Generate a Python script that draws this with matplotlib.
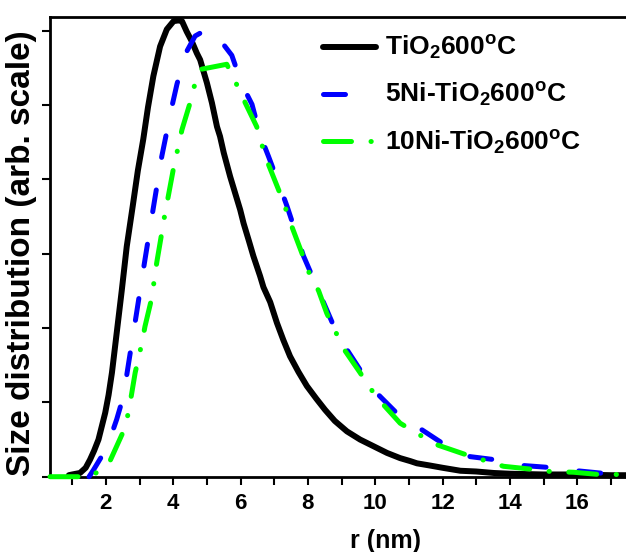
import matplotlib
matplotlib.use("Agg")
import matplotlib.pyplot as plt
from matplotlib.ticker import MultipleLocator, NullFormatter

plt.rcParams["font.family"] = ["Liberation Sans", "DejaVu Sans"]
plt.rcParams["font.weight"] = "bold"
plt.rcParams["mathtext.fontset"] = "custom"
plt.rcParams["mathtext.rm"] = "Liberation Sans:bold"
plt.rcParams["mathtext.bf"] = "Liberation Sans:bold"
plt.rcParams["mathtext.it"] = "Liberation Sans:bold"
plt.rcParams["mathtext.default"] = "bf"

# Pore radius (nm) and size distribution (arb. units)
r_tio2 = [0.90, 1.00, 1.23, 1.40, 1.53, 1.65, 1.78, 1.88, 1.98, 2.08, 2.18, 2.32,
          2.47, 2.62, 2.80, 2.95, 3.11, 3.25, 3.41, 3.61, 3.81, 4.01, 4.15, 4.26,
          4.40, 4.55, 4.70, 4.80, 5.00, 5.15, 5.30, 5.39, 5.50, 5.69, 5.85, 5.99,
          6.09, 6.25, 6.38, 6.58, 6.68, 6.88, 7.08, 7.27, 7.47, 7.72, 7.97, 8.25,
          8.51, 8.80, 9.16, 9.55, 9.95, 10.35, 10.74, 11.04, 11.24, 11.63, 12.00,
          12.53, 13.00, 13.52, 14.00, 15.00, 16.00, 17.00, 18.00, 19.00, 20.30]
d_tio2 = [0.02, 0.03, 0.05, 0.12, 0.23, 0.35, 0.50, 0.68, 0.86, 1.10, 1.40, 1.93,
          2.50, 3.10, 3.65, 4.12, 4.54, 4.97, 5.39, 5.79, 6.02, 6.13, 6.14, 6.13,
          5.99, 5.86, 5.70, 5.61, 5.30, 5.03, 4.71, 4.58, 4.36, 4.04, 3.80, 3.59,
          3.41, 3.17, 2.97, 2.70, 2.55, 2.35, 2.07, 1.84, 1.62, 1.41, 1.22, 1.05,
          0.90, 0.75, 0.61, 0.50, 0.41, 0.32, 0.25, 0.21, 0.18, 0.15, 0.12,
          0.08, 0.07, 0.05, 0.04, 0.03, 0.03, 0.02, 0.02, 0.02, 0.01]

r_5ni = [1.50, 1.63, 2.03, 2.32, 2.52, 2.70, 2.90, 3.10, 3.26, 3.41, 3.66, 3.96,
         4.11, 4.35, 4.65, 5.00, 5.25, 5.74, 6.04, 6.34, 6.58, 6.83, 7.13, 7.38,
         7.87, 8.27, 8.86, 9.16, 9.65, 10.10, 10.74, 11.29, 12.13, 12.82, 13.71,
         14.41, 15.30, 15.99, 16.89, 17.40, 18.50, 20.30]
d_5ni = [0.00, 0.09, 0.39, 0.77, 1.08, 1.60, 2.17, 2.75, 3.20, 3.62, 4.31, 4.98,
         5.28, 5.68, 5.93, 6.02, 5.96, 5.67, 5.28, 5.01, 4.60, 4.31, 3.95, 3.64,
         2.97, 2.55, 1.93, 1.71, 1.37, 1.10, 0.81, 0.66, 0.41, 0.27, 0.22,
         0.15, 0.12, 0.08, 0.04, 0.03, 0.02, 0.01]

r_10ni = [0.34, 1.60, 1.68, 2.12, 2.52, 2.67, 2.87, 3.07, 3.16, 3.36, 3.51, 3.66,
          3.74, 4.00, 4.26, 4.50, 4.60, 4.80, 5.59, 5.84, 6.14, 6.48, 6.63, 6.83,
          7.13, 7.33, 7.52, 7.82, 8.02, 8.32, 8.56, 8.81, 9.11, 9.55, 9.85, 10.20,
          10.74, 11.29, 11.83, 12.67, 13.17, 13.81, 14.66, 15.20, 15.89, 16.64,
          17.23, 18.50, 20.30]
d_10ni = [0.00, 0.00, 0.04, 0.21, 0.61, 0.86, 1.40, 1.80, 2.02, 2.40, 2.88, 3.28,
          3.50, 4.13, 4.67, 5.03, 5.22, 5.48, 5.55, 5.32, 5.03, 4.71, 4.47, 4.20,
          3.86, 3.62, 3.37, 3.01, 2.76, 2.50, 2.20, 1.96, 1.69, 1.40, 1.19, 0.99,
          0.72, 0.57, 0.43, 0.30, 0.23, 0.14, 0.10, 0.07, 0.06, 0.03,
          0.03, 0.02, 0.01]

labels = [r"TiO$_2$600$^o$C", r"5Ni-TiO$_2$600$^o$C", r"10Ni-TiO$_2$600$^o$C"]
x_ticks = [2, 4, 6, 8, 10, 12, 14, 16]

fig = plt.figure(figsize=(6.26, 5.52), dpi=100)
ax = fig.add_axes([50 / 626, 75.3 / 552, 672 / 626, 460 / 552])

ax.plot(r_tio2, d_tio2, color="black", lw=4.3, solid_capstyle="round",
        solid_joinstyle="round", clip_on=False, zorder=3, label=labels[0])
ax.plot(r_5ni, d_5ni, color="#0000ff", lw=3.6, dashes=(4.4, 6.6),
        dash_capstyle="round", clip_on=False, zorder=4, label=labels[1])
ax.plot(r_10ni, d_10ni, color="#00ff00", lw=3.6, dashes=(5.6, 3.9, 0.05, 3.9),
        dash_capstyle="round", clip_on=False, zorder=5, label=labels[2])

ax.set_xlim(0.34, 20.3)
ax.set_ylim(0, 6.19)
ax.set_xticks(x_ticks)
ax.xaxis.set_minor_locator(MultipleLocator(1))
ax.xaxis.set_minor_formatter(NullFormatter())
ax.yaxis.set_major_locator(MultipleLocator(1))
ax.set_yticklabels([])

ax.tick_params(axis="both", which="both", direction="out", length=5.5, width=1.5)
ax.tick_params(axis="x", labelsize=16, pad=6)
for lab in ax.get_xticklabels():
    lab.set_fontweight("bold")

for side in ("left", "bottom", "top", "right"):
    ax.spines[side].set_linewidth(2.0)

ax.set_xlabel("r (nm)", fontsize=18, fontweight="bold", labelpad=11)
ax.set_ylabel("Size distribution (arb. scale)", fontsize=24, fontweight="bold")
ax.yaxis.set_label_coords(-0.019, 0.485)

ax.legend(loc="upper left", bbox_to_anchor=(323 / 626, 1 - 34 / 552),
          bbox_transform=fig.transFigure, frameon=False,
          handlelength=2.0, handletextpad=0.35, labelspacing=0.72,
          borderpad=0, borderaxespad=0, prop={"weight": "bold", "size": 19})

fig.savefig("out.png", dpi=100)
